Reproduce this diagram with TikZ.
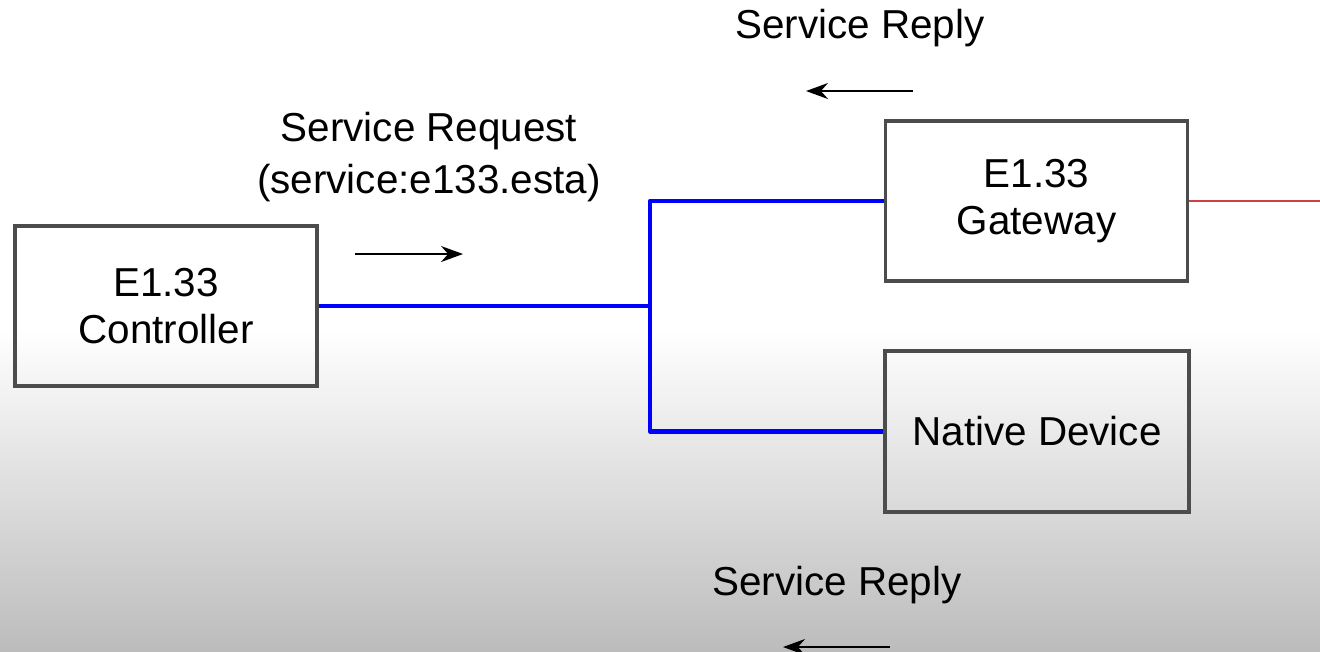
\documentclass[tikz,border=0pt]{standalone}
\usepackage{fontspec}
\setmainfont{Liberation Sans}
\usetikzlibrary{arrows.meta}
\definecolor{bgbottom}{RGB}{188,188,188}
\definecolor{gwred}{RGB}{208,64,64}
\tikzset{
  box/.style={draw=black!70, line width=0.9pt, minimum width=3.02cm, minimum height=1.6cm, inner sep=0pt, align=center, font=\fontsize{11.5}{13.4}\selectfont},
  link/.style={draw=blue, line width=1.2pt, line join=round},
  msg/.style={font=\fontsize{11.5}{15}\selectfont, align=center},
  flow/.style={draw=black, line width=0.6pt, -{Stealth[length=2.2mm, width=1.6mm]}}
}
\begin{document}
\begin{tikzpicture}
  % background
  \useasboundingbox (0,0) rectangle (13.2,-6.51);
  \fill[white] (0,0) rectangle (13.2,-3.3);
  \shade[top color=white, bottom color=bgbottom] (0,-3.3) rectangle (13.2,-6.51);
  % devices
  \node[box] (ctrl) at (1.66,-3.06) {E1.33\\Controller};
  \node[box] (gw) at (10.365,-2.01) {E1.33\\Gateway};
  \node[box, minimum width=3.04cm, minimum height=1.61cm] (native) at (10.37,-4.315) {Native Device};
  % network
  \coordinate (hub) at (6.50,-3.06);
  \coordinate (out) at (13.2,-2.01);
  \draw[link] (ctrl.east) -- (hub);
  \draw[link] (gw.west) -| (hub) |- (native.west);
  \draw[gwred, line width=0.8pt] (gw.east) -- (out);
  % messages
  \node[msg] (req) at (4.29,-1.57) {Service Request\\(service:e133.esta)};
  \node[msg, anchor=base] (reply1) at (8.60,-0.38) {Service Reply};
  \node[msg, anchor=base] (reply2) at (8.37,-5.95) {Service Reply};
  \coordinate (r1) at (3.55,-2.54);
  \coordinate (r2) at (4.63,-2.54);
  \coordinate (a1) at (9.13,-0.91);
  \coordinate (a2) at (8.06,-0.91);
  \coordinate (b1) at (8.90,-6.47);
  \coordinate (b2) at (7.83,-6.47);
  \draw[flow] (r1) -- (r2);
  \draw[flow] (a1) -- (a2);
  \draw[flow] (b1) -- (b2);
\end{tikzpicture}
\end{document}
